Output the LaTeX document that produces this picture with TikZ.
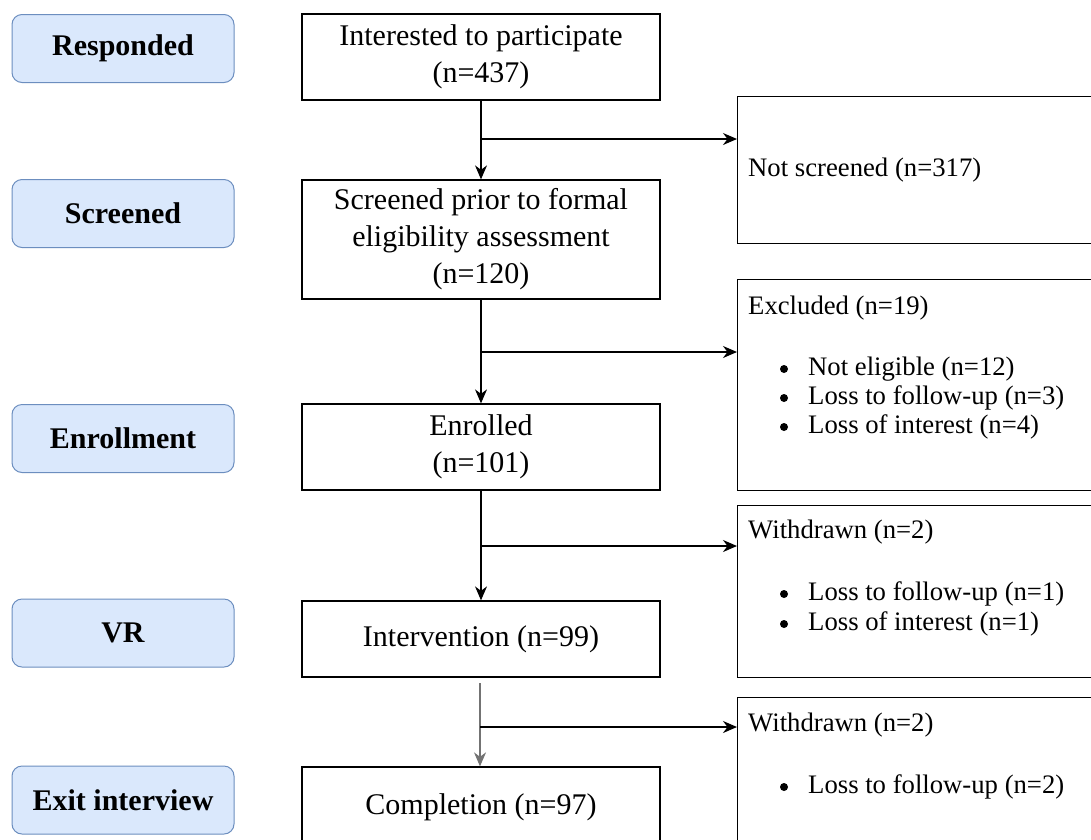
\documentclass[tikz,border=0pt]{standalone}
\usepackage{fontspec}
\setmainfont{Liberation Serif}
\usetikzlibrary{arrows.meta}
\definecolor{stagefill}{HTML}{DAE8FC}
\definecolor{stagedraw}{HTML}{6C8EBF}
\begin{document}
\begin{tikzpicture}[x=1pt,y=-1pt,
  stage/.style={draw=stagedraw, fill=stagefill, line width=1pt, rounded corners=10pt,
    minimum width=222pt, minimum height=68pt, inner sep=0pt,
    font=\fontsize{30}{36}\selectfont\bfseries},
  flowbox/.style={draw=black, line width=1.3pt, minimum width=358pt, inner sep=0pt,
    align=center, font=\fontsize{30}{37}\selectfont},
  sidebox/.style={draw=black, line width=1.3pt, anchor=north west, minimum width=420pt, inner sep=0pt},
  sidetext/.style={anchor=west, inner sep=0pt, font=\fontsize{26.7}{30}\selectfont},
  dot/.style={fill=black},
  arr/.style={line width=1.3pt, -{Stealth[length=14pt,width=12pt,inset=4.5pt]}},
]
\useasboundingbox (0,0) rectangle (1091,839);
\clip (0,0) rectangle (1091,839);
\fill[white] (0,0) rectangle (1091,839);

% stage labels
\node[stage] (sResp) at (123,48.5) {Responded};
\node[stage] (sScr)  at (123,213.5) {Screened};
\node[stage] (sEnr)  at (123,438.5) {Enrollment};
\node[stage] (sVR)   at (123,633) {VR};
\node[stage] (sExit) at (123,800) {Exit interview};

% main flow
\node[flowbox, minimum height=86pt]  (int) at (481,57)    {Interested to participate\\(n=437)};
\node[flowbox, minimum height=119pt] (scr) at (481,239.5) {Screened prior to formal\\eligibility assessment\\(n=120)};
\node[flowbox, minimum height=86pt]  (enr) at (481,447)   {Enrolled\\(n=101)};
\node[flowbox, minimum height=76pt]  (itv) at (481,639)   {Intervention (n=99)};
\node[flowbox, minimum height=80pt]  (cmp) at (481,807)   {Completion (n=97)};

% side boxes
\node[sidebox, minimum height=147pt] (ns)  at (737,96)  {};
\node[sidebox, minimum height=211pt] (exc) at (737,279) {};
\node[sidebox, minimum height=172pt] (wd1) at (737,505) {};
\node[sidebox, minimum height=170pt] (wd2) at (737,697) {};

% side texts
\node[sidetext] (nsT)  at (748,170) {Not screened (n=317)};
\node[sidetext] (excH) at (748,308) {Excluded (n=19)};
\node[sidetext] (excA) at (808,369) {Not eligible (n=12)};
\node[sidetext] (excB) at (808,398) {Loss to follow-up (n=3)};
\node[sidetext] (excC) at (808,427) {Loss of interest (n=4)};
\node[sidetext] (w1H)  at (748,532) {Withdrawn (n=2)};
\node[sidetext] (w1A)  at (808,594) {Loss to follow-up (n=1)};
\node[sidetext] (w1B)  at (808,624) {Loss of interest (n=1)};
\node[sidetext] (w2H)  at (748,725) {Withdrawn (n=2)};
\node[sidetext] (w2A)  at (808,787) {Loss to follow-up (n=2)};

% bullets
\foreach \yy in {369,398,427,594,624,787} \fill[dot] (784,\yy) circle (4);

% connectors
\draw[arr] (int.south) -- (scr.north);
\draw[arr] (scr.south) -- (enr.north);
\draw[arr] (enr.south) -- (itv.north);
\coordinate (c4) at (480,683);
\draw[arr, draw=black!55, fill=black] (c4) -- (c4 |- cmp.north);

\coordinate (b1) at (481,139);
\coordinate (b2) at (481,352);
\coordinate (b3) at (481,546);
\coordinate (b4) at (480,727);
\draw[arr] (b1) -- (b1 -| ns.west);
\draw[arr] (b2) -- (b2 -| exc.west);
\draw[arr] (b3) -- (b3 -| wd1.west);
\draw[arr] (b4) -- (b4 -| wd2.west);
\end{tikzpicture}
\end{document}
